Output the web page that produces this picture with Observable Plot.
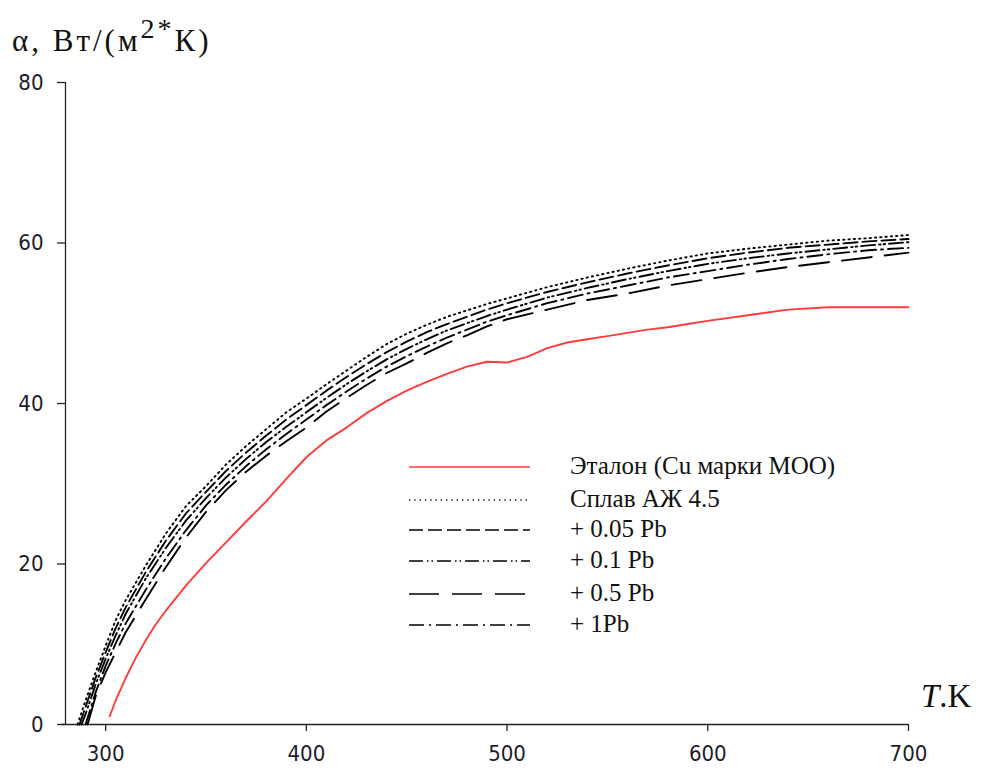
<!DOCTYPE html>
<html><head><meta charset="utf-8">
<script src="https://cdn.jsdelivr.net/npm/d3@7"></script>
<script src="https://cdn.jsdelivr.net/npm/@observablehq/plot@0.6"></script>
<style>
body{margin:0;background:#fff;}
#chart{position:relative;width:981px;height:771px;}
</style>
</head><body><div id="chart"></div>
<script>
// ---- data ----
const seriesNames = ["Эталон (Cu марки МОО)", "Сплав АЖ 4.5", "+ 0.05 Pb", "+ 0.1 Pb", "+ 0.5 Pb", "+ 1Pb"];
const xTicks = [300, 400, 500, 600, 700];
const yTicks = [0, 20, 40, 60, 80];

// reference (red)
const tEtalon = [302, 305, 310, 315, 320, 325, 330, 340, 350, 360, 370, 380, 390, 400, 410, 420, 430, 440, 450, 460, 470, 480, 490, 500, 510, 520, 530, 540, 550, 560, 570, 580, 590, 600, 620, 640, 660, 680, 700];
const aEtalon = [1.0, 3.0, 5.8, 8.3, 10.5, 12.5, 14.2, 17.3, 20.1, 22.7, 25.3, 27.8, 30.6, 33.3, 35.4, 37.0, 38.8, 40.3, 41.6, 42.7, 43.7, 44.6, 45.2, 45.1, 45.8, 46.9, 47.6, 48.0, 48.4, 48.8, 49.2, 49.5, 49.9, 50.3, 51.0, 51.7, 52.0, 52.0, 52.0];

// alloys (black)
const tBlack = [290, 295, 300, 305, 310, 320, 330, 340, 350, 360, 370, 380, 390, 400, 410, 420, 430, 440, 450, 460, 470, 480, 490, 500, 520, 540, 560, 580, 600, 620, 640, 660, 680, 700];
const startAZh = 286, start005 = 287, start01 = 288, start05 = 291, start1 = 290;
const aAZh = [3.0, 6.5, 9.8, 13.0, 15.5, 19.8, 23.8, 27.2, 29.7, 32.4, 34.7, 36.8, 38.9, 40.6, 42.4, 44.1, 45.8, 47.4, 48.7, 49.8, 50.8, 51.6, 52.4, 53.1, 54.5, 55.7, 56.8, 57.8, 58.7, 59.3, 59.8, 60.3, 60.6, 61.0];
const a005 = [2.2, 5.8, 9.0, 12.0, 14.6, 19.0, 22.9, 26.3, 29.0, 31.6, 33.9, 36.0, 38.0, 39.8, 41.6, 43.3, 44.9, 46.4, 47.7, 48.9, 49.9, 50.8, 51.7, 52.5, 53.9, 55.1, 56.2, 57.2, 58.1, 58.8, 59.4, 59.8, 60.2, 60.5];
const a01 = [1.3, 5.0, 8.2, 11.1, 13.8, 18.2, 22.0, 25.4, 28.2, 30.8, 33.1, 35.2, 37.1, 38.9, 40.7, 42.4, 44.0, 45.5, 46.8, 48.0, 49.1, 50.0, 50.9, 51.7, 53.2, 54.4, 55.5, 56.5, 57.4, 58.1, 58.7, 59.2, 59.7, 60.1];
const a05 = [null, 3.5, 6.5, 9.0, 11.5, 15.6, 19.6, 23.3, 26.5, 29.2, 31.5, 33.5, 35.3, 37.0, 39.0, 40.7, 42.3, 43.8, 45.0, 46.3, 47.5, 48.5, 49.6, 50.5, 51.7, 52.9, 53.7, 54.7, 55.5, 56.3, 57.0, 57.6, 58.2, 58.8];
const a1 = [0.0, 4.0, 7.3, 10.1, 12.6, 16.8, 20.7, 24.2, 27.3, 29.9, 32.2, 34.3, 36.2, 38.0, 39.8, 41.5, 43.1, 44.6, 45.9, 47.1, 48.2, 49.2, 50.2, 51.0, 52.5, 53.7, 54.7, 55.7, 56.5, 57.3, 58.0, 58.6, 59.1, 59.4];

// ---- build rows ----
function blackRows(name, start, vals) {
  const r = [{s: name, T: start, a: 0}];
  tBlack.forEach((t, i) => { if (vals[i] != null && t > start) r.push({s: name, T: t, a: vals[i]}); });
  return r;
}
const redRows = tEtalon.map((t, i) => ({s: seriesNames[0], T: t, a: aEtalon[i]}));
const blacks = [
  {rows: blackRows(seriesNames[1], startAZh, aAZh), dash: "1.3,4"},
  {rows: blackRows(seriesNames[2], start005, a005), dash: "14,5"},
  {rows: blackRows(seriesNames[3], start01, a01), dash: "14,4,1.5,3,1.5,4"},
  {rows: blackRows(seriesNames[4], start05, a05), dash: "30,13"},
  {rows: blackRows(seriesNames[5], start1, a1), dash: "15,5,2,5"}
];

const W = 981, H = 771;
const tickFont = "'Liberation Sans Narrow','DejaVu Sans Condensed','Liberation Sans',sans-serif";
const serif = "'Liberation Serif','DejaVu Serif',serif";

const marks = [
  Plot.ruleX([280], {y1: 0, y2: 80, stroke: "#222", strokeWidth: 1.3}),
  Plot.ruleY([0], {x1: 278, x2: 700, stroke: "#222", strokeWidth: 1.3}),
  Plot.axisX({ticks: xTicks, tickSize: 7, tickPadding: 14, tickFormat: d => String(d), fontSize: 22, fill: "#1c1c2c", stroke: "#222", strokeWidth: 1.3, label: null}),
  Plot.axisY({ticks: yTicks, tickSize: 8, tickPadding: 14, tickFormat: d => String(d), fontSize: 22, fill: "#1c1c2c", stroke: "#222", strokeWidth: 1.3, label: null})
];
blacks.forEach(b => marks.push(Plot.line(b.rows, {x: "T", y: "a", stroke: "#000", strokeWidth: 1.9, strokeDasharray: b.dash})));
marks.push(Plot.line(redRows, {x: "T", y: "a", stroke: "#ff3b3b", strokeWidth: 1.9}));

const plot = Plot.plot({
  width: W, height: H,
  marginLeft: 65, marginRight: 73, marginTop: 82, marginBottom: 47,
  x: {domain: [280, 700], label: null},
  y: {domain: [0, 80], label: null},
  style: {fontFamily: tickFont, background: "#fff"},
  marks
});
document.getElementById("chart").appendChild(plot);

const svg = d3.select(plot);
// axis title (y)
const ttl = svg.append("text").attr("x", 12).attr("y", 51).attr("text-anchor", "start")
  .attr("font-family", serif).attr("font-size", 31).attr("letter-spacing", 3).attr("fill", "#111");
ttl.append("tspan").text("α, Вт/(м");
ttl.append("tspan").attr("dy", -13).attr("font-size", 28).text("2*");
ttl.append("tspan").attr("dy", 13).text("К)");
// axis title (x)
const tx = svg.append("text").attr("x", 921).attr("y", 707).attr("text-anchor", "start")
  .attr("font-family", serif).attr("font-size", 33).attr("fill", "#111");
tx.append("tspan").attr("font-style", "italic").text("T");
tx.append("tspan").text(".K");

// legend
const legend = [
  {name: seriesNames[0], color: "#ff3b3b", dash: null, y: 467},
  {name: seriesNames[1], color: "#000", dash: "1.3,4", y: 500},
  {name: seriesNames[2], color: "#000", dash: "14,5", y: 530},
  {name: seriesNames[3], color: "#000", dash: "14,4,1.5,3,1.5,4", y: 561},
  {name: seriesNames[4], color: "#000", dash: "30,13", y: 594},
  {name: seriesNames[5], color: "#000", dash: "15,5,2,5", y: 625}
];
const lg = svg.append("g");
legend.forEach(e => {
  const l = lg.append("line").attr("x1", 409).attr("x2", 530).attr("y1", e.y).attr("y2", e.y)
    .attr("stroke", e.color).attr("stroke-width", 1.5);
  if (e.dash) l.attr("stroke-dasharray", e.dash);
  lg.append("text").attr("x", 570).attr("y", e.y).attr("dy", "0.28em").attr("text-anchor", "start")
    .attr("font-family", serif).attr("font-size", 25).attr("fill", "#111").text(e.name);
});
</script></body></html>
